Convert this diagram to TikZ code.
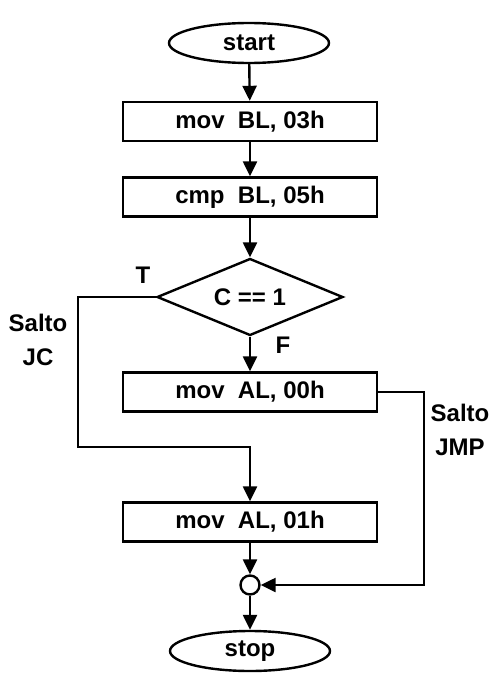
\documentclass[tikz,border=0pt]{standalone}
\usepackage{fontspec}
\setmainfont{Liberation Sans}
\usetikzlibrary{shapes.geometric,arrows.meta}
\tikzset{
	blk/.style={draw,rectangle,minimum width=254pt,minimum height=39pt,inner sep=0pt},
	term/.style={draw,ellipse,minimum width=160pt,minimum height=40pt,inner sep=0pt},
	cond/.style={draw,diamond,aspect=2.4,minimum width=186pt,minimum height=77pt,inner sep=0pt},
	junc/.style={draw,circle,minimum size=19pt,inner sep=0pt},
	lbl/.style={align=center,inner sep=0pt}
}
\begin{document}
\begin{tikzpicture}[x=1pt,y=1pt,font=\bfseries\fontsize{24}{34}\selectfont,line width=2.4pt,line join=miter,>={Triangle[length=15pt,width=14pt]}]
				\useasboundingbox (0,0) rectangle (499,-677);
				\path
				(249,-43) node[term] (start) {start}
				(250,-121.5) node[blk] (movBL) {mov\ \ BL, 03h}
				(250,-197) node[blk] (cmpBL) {cmp\ \ BL, 05h}
				(250,-297) node[cond] (cond) {C == 1}
				(250,-392) node[blk] (movAL0) {mov\ \ AL, 00h}
				(250,-522) node[blk] (movAL1) {mov\ \ AL, 01h}
				(250,-585) node[junc] (junc) {}
				(250,-651) node[term] (stop) {stop}
				(78,-447) coordinate (jc)
				(424,-585) coordinate (jmp)
				;
				\draw[->] (start)--(movBL);
				\draw[->] (movBL)--(cmpBL);
				\draw[->] (cmpBL)--(cond);
				\draw[->] (cond)--(movAL0);
				\draw[->] (cond.west) -| (jc) -- (jc-|movAL1) -- (movAL1);
				\draw[->] (movAL0.east) -| (jmp) -- (junc);
				\draw[->] (movAL1)--(junc);
				\draw[->] (junc)--(stop);
				\path (143,-275) node[lbl] (t) {T} (283,-345) node[lbl] (f) {F}
				(38,-340) node[lbl] (saltoJC) {Salto\\JC}
				(460,-430) node[lbl] (saltoJMP) {Salto\\JMP};
			\end{tikzpicture}
\end{document}
